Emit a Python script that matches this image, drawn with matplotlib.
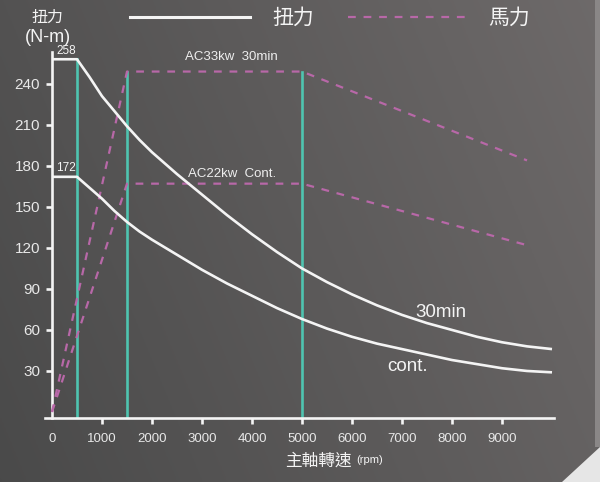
import numpy as np
import matplotlib
matplotlib.use("Agg")
import matplotlib.pyplot as plt
from matplotlib.patches import Polygon

plt.rcParams['font.family'] = ['Noto Sans CJK TC', 'DejaVu Sans']

# ---- data ----
rpm_30 = [0, 500, 750, 1000, 1250, 1500, 1750, 2000, 2500, 3000, 3500, 4000, 4500, 5000,
          5500, 6000, 6500, 7000, 7500, 8000, 8500, 9000, 9500, 10000]
torque_30 = [258, 258, 245, 231, 220, 209, 199, 190, 174, 159, 144, 130, 117, 105,
             95, 86, 78, 71, 65, 60, 55, 51, 48, 46]
rpm_cont = [0, 500, 750, 1000, 1250, 1500, 1750, 2000, 2500, 3000, 3500, 4000, 4500, 5000,
            5500, 6000, 6500, 7000, 7500, 8000, 8500, 9000, 9500, 10000]
torque_cont = [172, 172, 164, 156, 147, 139, 132, 126, 115, 104, 94, 85, 76, 68,
               61, 55, 50, 46, 42, 38, 35, 32, 30, 29]
prpm_30 = [0, 1500, 5000, 9500]
power_30 = [0, 249, 249, 184]
prpm_cont = [0, 1500, 5000, 9500]
power_cont = [0, 167, 167, 122]
vlines_x = [500, 1500, 5000]
vlines_top = [258, 249, 249]
xticks = [0, 1000, 2000, 3000, 4000, 5000, 6000, 7000, 8000, 9000]
yticks = [30, 60, 90, 120, 150, 180, 210, 240]

W, H = 600, 482
fig = plt.figure(figsize=(W / 100, H / 100), dpi=100)

# background gradient
bg = fig.add_axes([0, 0, 1, 1], zorder=-10)
xs = np.linspace(0, 1, 300)
ys = np.linspace(0, 1, 240)
X, Y = np.meshgrid(xs, ys)
c0 = np.array([0.29, 0.29, 0.29])
c1 = np.array([0.43, 0.415, 0.415])
t = np.clip(0.75 * X + 0.25 * Y, 0, 1)[..., None]
img = c0 * (1 - t) + c1 * t
bg.imshow(img, extent=[0, 1, 0, 1], aspect='auto', origin='lower')
bg.add_patch(Polygon([[562 / W, 0], [1, 0], [1, (482 - 447) / H]], closed=True,
                     facecolor='#e6e6e6', edgecolor='none'))
bg.add_patch(Polygon([[595 / W, (482 - 447) / H], [1, (482 - 447) / H], [1, 1], [595 / W, 1]],
                     closed=True, facecolor='#8a8787', edgecolor='none'))
bg.set_xlim(0, 1)
bg.set_ylim(0, 1)
bg.axis('off')

ax = fig.add_axes([45 / W, (H - 418) / H, (554 - 45) / W, (418 - 52) / H])
ax.patch.set_alpha(0)
ax.set_xlim(-140, 10040)
ax.set_ylim(-4.4, 263.3)

white = '#f4f4f4'
teal = '#4fc4b0'
mag = '#b868a8'

for x, top in zip(vlines_x, vlines_top):
    ax.plot([x, x], [-4.4, top], color=teal, lw=1.9, zorder=2)

ax.plot(prpm_30, power_30, color=mag, lw=1.6, dashes=(3.5, 3.5), zorder=3)
ax.plot(prpm_cont, power_cont, color=mag, lw=1.6, dashes=(3.5, 3.5), zorder=3)

ax.plot(rpm_30, torque_30, color=white, lw=1.9, zorder=4, solid_capstyle='butt',
        solid_joinstyle='round')
ax.plot(rpm_cont, torque_cont, color=white, lw=1.9, zorder=4, solid_capstyle='butt',
        solid_joinstyle='round')

# spines
for s in ['top', 'right']:
    ax.spines[s].set_visible(False)
ax.spines['left'].set_position(('data', 0))
ax.spines['left'].set_bounds(-4.4, 263.3)
for s in ['left', 'bottom']:
    ax.spines[s].set_color(white)
    ax.spines[s].set_linewidth(1.9)

ax.set_xticks(xticks)
ax.set_xticklabels([str(v) for v in xticks])
ax.set_yticks(yticks)
ax.set_yticklabels([str(v) for v in yticks])
ax.tick_params(axis='both', colors=white, labelcolor='#e8e8e8',
               length=4.5, width=1.9, direction='out')
ax.tick_params(axis='x', pad=6, labelsize=9.5)
ax.tick_params(axis='y', pad=4, labelsize=11)
ax.xaxis.get_major_ticks()[0].tick1line.set_visible(False)
for lab in ax.get_xticklabels() + ax.get_yticklabels():
    lab.set_family(['Liberation Sans', 'DejaVu Sans'])

# annotations
ax.text(90, 260, '258', color=white, fontsize=8.5, ha='left', va='bottom', family='Liberation Sans')
ax.text(90, 174, '172', color=white, fontsize=8.5, ha='left', va='bottom', family='Liberation Sans')
ax.text(3580, 260, 'AC33kw  30min', color='#eeeeee', fontsize=9.5, ha='center', va='center',
        family='Liberation Sans')
ax.text(3600, 174, 'AC22kw  Cont.', color='#eeeeee', fontsize=9.5, ha='center', va='center',
        family='Liberation Sans')
ax.text(7780, 73, '30min', color=white, fontsize=13.5, ha='center', va='center',
        family='Liberation Sans')
ax.text(7120, 33, 'cont.', color=white, fontsize=13.5, ha='center', va='center',
        family='Liberation Sans')

# axis labels
fig.text(47 / W, 1 - 17 / H, '扭力', color=white, fontsize=11.5, ha='center', va='center')
fig.text(48 / W, 1 - 37 / H, '(N-m)', color=white, fontsize=13, ha='center', va='center',
         family='Liberation Sans')
fig.text(318 / W, 1 - 461 / H, '主軸轉速', color=white, fontsize=12, ha='center', va='center')
fig.text(356 / W, 1 - 460 / H, '(rpm)', color=white, fontsize=8, ha='left', va='center',
         family='Liberation Sans')

# legend
fig.add_artist(plt.Line2D([130 / W, 250 / W], [1 - 17 / H, 1 - 17 / H], color=white, lw=2.2))
fig.text(272 / W, 1 - 18 / H, '扭力', color=white, fontsize=15, ha='left', va='center')
fig.add_artist(plt.Line2D([348 / W, 472 / W], [1 - 17 / H, 1 - 17 / H], color=mag, lw=1.6,
                          dashes=(3.5, 3.5)))
fig.text(488 / W, 1 - 18 / H, '馬力', color=white, fontsize=15, ha='left', va='center')

fig.savefig('out.png', dpi=100)
